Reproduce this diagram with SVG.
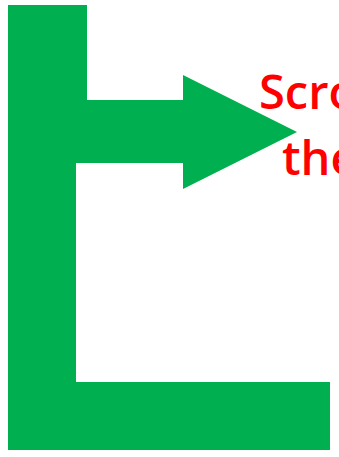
<svg xmlns="http://www.w3.org/2000/svg" width="339" height="457" viewBox="0 0 339 457">
<style>
.shape{fill:#00B050;stroke:none}
.lbl{font-family:"Open Sans","Noto Sans","Liberation Sans",sans-serif;font-weight:600;font-size:47px;fill:#FF0000}
</style>
<rect width="339" height="457" fill="#FFFFFF"/>
<g id="connectors">
<path class="shape" d="M8,5 L87,5 L87,100 L183,100 L183,75 L297,132 L183,189 L183,163 L76,163 L76,382 L330,382 L330,450 L8,450 Z"/>
</g>
<g id="label">
<text class="lbl" x="259" y="109">Scroll</text>
<text class="lbl" x="282" y="175">the</text>
</g>
</svg>
